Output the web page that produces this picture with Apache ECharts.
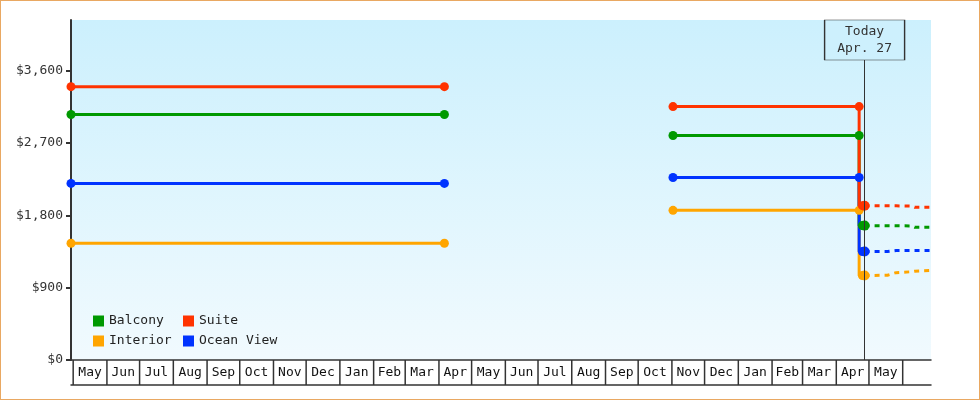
<!DOCTYPE html>
<html>
<head>
<meta charset="utf-8">
<script src="https://cdn.jsdelivr.net/npm/echarts@6/dist/echarts.min.js"></script>
<style>
  body { margin: 0; background: #fff; }
  #main { width: 978px; height: 398px; border: 1px solid #e9a862; }
</style>
</head>
<body>
<div id="main"></div>
<script>
// names / colours, legend order
var names = ['Balcony', 'Suite', 'Interior', 'Ocean View'];
var colors = { 'Balcony': '#009900', 'Suite': '#ff3300', 'Interior': '#ffa500', 'Ocean View': '#0033ff' };
// draw order (last on top)
var drawOrder = ['Interior', 'Balcony', 'Ocean View', 'Suite'];

// first period (flat)
var datesA = ['2023-04-29', '2024-04-06'];
var pricesA = {
  'Balcony': [3054, 3054],
  'Suite': [3401, 3401],
  'Interior': [1452, 1452],
  'Ocean View': [2197, 2197]
};

// second period, with the drop just before today
var datesB = ['2024-11-02', '2025-04-22', '2025-04-25'];
var pricesB = {
  'Balcony': [2793, 2793, 1672],
  'Suite': [3153, 3153, 1920],
  'Interior': [1862, 1862, 1051],
  'Ocean View': [2271, 2271, 1349]
};

// forecast (dashed)
var datesF = ['2025-04-27', '2025-05-18', '2025-05-26', '2025-06-09', '2025-06-12', '2025-06-27'];
var pricesF = {
  'Balcony': [1672, 1671, 1670, 1668, 1651, 1651],
  'Suite': [1920, 1919, 1918, 1915, 1899, 1899],
  'Interior': [1051, 1055, 1087, 1098, 1104, 1114],
  'Ocean View': [1349, 1349, 1362, 1362, 1362, 1362]
};

// axes
var xMin = '2023-04-29';
var xMax = '2025-06-27';
var today = '2025-04-27';
var todayLabel = 'Today\nApr. 27';
var yMax = 4230;
var yTicks = [0, 900, 1800, 2700, 3600];
var monthStarts = ['2023-05-01', '2023-06-01', '2023-07-01', '2023-08-01', '2023-09-01', '2023-10-01',
  '2023-11-01', '2023-12-01', '2024-01-01', '2024-02-01', '2024-03-01', '2024-04-01', '2024-05-01',
  '2024-06-01', '2024-07-01', '2024-08-01', '2024-09-01', '2024-10-01', '2024-11-01', '2024-12-01',
  '2025-01-01', '2025-02-01', '2025-03-01', '2025-04-01', '2025-05-01', '2025-06-01'];
var monthLabels = ['May', 'Jun', 'Jul', 'Aug', 'Sep', 'Oct', 'Nov', 'Dec', 'Jan', 'Feb', 'Mar', 'Apr',
  'May', 'Jun', 'Jul', 'Aug', 'Sep', 'Oct', 'Nov', 'Dec', 'Jan', 'Feb', 'Mar', 'Apr', 'May'];

var font = '"DejaVu Sans Mono", "Liberation Mono", monospace';
var chart = echarts.init(document.getElementById('main'));

function pairs(dates, vals) {
  return dates.map(function (d, i) { return [d, vals[i]]; });
}

var series = [];
drawOrder.forEach(function (n) {
  var c = colors[n];
  series.push({
    name: n, type: 'line', data: pairs(datesA, pricesA[n]),
    symbol: 'circle', symbolSize: 9,
    lineStyle: { color: c, width: 3 }, itemStyle: { color: c }
  });
  series.push({
    name: n, type: 'line', data: pairs(datesB, pricesB[n]), step: 'start',
    symbol: 'circle', symbolSize: 9,
    lineStyle: { color: c, width: 3 }, itemStyle: { color: c }
  });
  series.push({
    name: n, type: 'line', data: pairs(datesF, pricesF[n]),
    symbol: 'circle',
    symbolSize: function (v, p) { return p.dataIndex === 0 ? 10 : 0; },
    lineStyle: { color: c, width: 3, type: [5, 5] }, itemStyle: { color: c }
  });
});

// today line
series.push({
  type: 'line', data: [], z: 4,
  markLine: {
    silent: true, symbol: 'none', animation: false,
    lineStyle: { color: '#333', width: 1, type: 'solid' },
    label: { show: false },
    data: [{ xAxis: today }]
  }
});
// today box
series.push({
  type: 'line', data: [], z: 6,
  markPoint: {
    silent: true, animation: false,
    symbol: 'rect', symbolSize: [80, 40], symbolOffset: [0, 20],
    itemStyle: { color: '#cdf0fd', borderColor: '#333', borderWidth: 1 },
    label: {
      show: true, position: 'inside', formatter: todayLabel,
      fontFamily: font, fontSize: 13, color: '#333', lineHeight: 17
    },
    data: [{ coord: [today, yMax] }]
  }
});

// month boxes under the axis
var monthData = monthStarts.map(function (d, i) {
  return [d, monthStarts[i + 1] || xMax, 0];
});
series.push({
  type: 'custom', clip: false, silent: true, z: 3,
  encode: { x: [0, 1], y: 2 },
  data: monthData,
  renderItem: function (params, api) {
    var s = api.coord([api.value(0), 0]);
    var e = api.coord([api.value(1), 0]);
    return {
      type: 'group',
      children: [
        { type: 'line', shape: { x1: s[0], y1: s[1], x2: s[0], y2: s[1] + 25 },
          style: { stroke: '#333', lineWidth: 1.5 } },
        { type: 'text', x: (s[0] + e[0]) / 2, y: s[1] + 13,
          style: { text: monthLabels[params.dataIndex] || '', align: 'center', verticalAlign: 'middle',
            font: '13px ' + font, fill: '#111' } }
      ]
    };
  }
});

chart.setOption({
  animation: false,
  grid: {
    left: 70, right: 48, top: 19, bottom: 39, show: true, borderWidth: 0,
    backgroundColor: new echarts.graphic.LinearGradient(0, 0, 0, 1, [
      { offset: 0, color: '#ccf0fd' }, { offset: 1, color: '#f1fafe' }
    ])
  },
  legend: {
    data: names, left: 92, top: 313, width: 190, padding: 0,
    icon: 'rect', itemWidth: 11, itemHeight: 11, itemGap: 6,
    selectedMode: false,
    textStyle: { fontFamily: font, fontSize: 13, color: '#222', width: 68, lineHeight: 14 }
  },
  xAxis: [{
    type: 'time', min: xMin, max: xMax,
    axisLine: { show: true, lineStyle: { color: '#333', width: 1.5 } },
    axisTick: { show: false }, axisLabel: { show: false }, splitLine: { show: false }
  }, {
    type: 'time', min: xMin, max: xMax, position: 'bottom', offset: 25,
    axisLine: { show: true, lineStyle: { color: '#333', width: 1.5 } },
    axisTick: { show: false }, axisLabel: { show: false }, splitLine: { show: false }
  }],
  yAxis: {
    type: 'value', min: 0, max: yMax, interval: 900,
    axisLine: { show: true, lineStyle: { color: '#333', width: 2 } },
    axisTick: { show: true, length: 5, customValues: yTicks, lineStyle: { color: '#333', width: 2 } },
    axisLabel: {
      customValues: yTicks, margin: 8, fontFamily: font, fontSize: 13, color: '#333',
      formatter: function (v) { return '$' + v.toLocaleString('en-US'); }
    },
    splitLine: { show: false }
  },
  series: series
});
</script>
</body>
</html>
